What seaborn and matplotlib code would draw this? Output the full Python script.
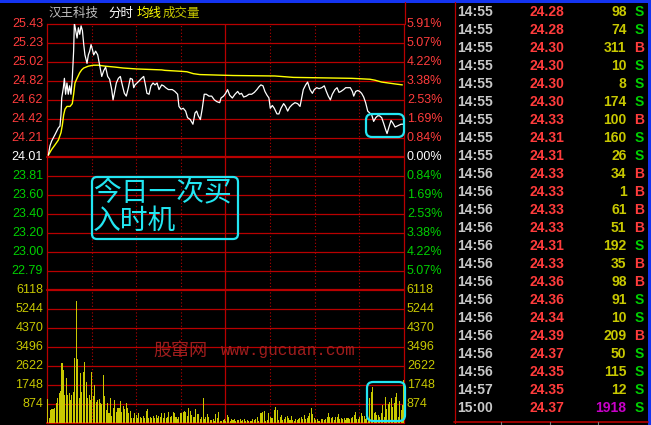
import numpy as np
import pandas as pd
import matplotlib
matplotlib.use("Agg")
import matplotlib.pyplot as plt
import seaborn as sns
from matplotlib.patches import FancyBboxPatch, Rectangle

# ---------------- data ----------------
stock_name = "汉王科技"
prev_close = 24.01
price_limit = 1.42
vol_max = 6118

price_labels = ["25.43", "25.23", "25.02", "24.82", "24.62", "24.42", "24.21",
                "24.01", "23.81", "23.60", "23.40", "23.20", "23.00", "22.79"]
pct_labels = ["5.91%", "5.07%", "4.22%", "3.38%", "2.53%", "1.69%", "0.84%",
              "0.00%", "0.84%", "1.69%", "2.53%", "3.38%", "4.22%", "5.07%"]
vol_labels = ["6118", "5244", "4370", "3496", "2622", "1748", "874"]

# minute since 09:30 (0..240) and price of the white line
price_min = [0.9, 2.0, 3.1, 5.4, 7.6, 8.7, 9.4, 9.9, 11.0, 11.7, 12.5, 13.4, 14.3, 15.2,
             16.1, 17.0, 17.9, 18.4, 19.3, 20.2, 21.1, 22.0, 22.9, 23.8, 24.7, 25.5,
             26.9, 27.8, 28.7, 29.6, 30.5, 31.4, 32.7, 34.1, 35.4, 36.8, 38.1, 39.4,
             40.8, 42.1, 43.5, 44.4, 45.3, 46.6, 48.0, 49.3, 50.6, 52.0, 53.3, 54.7,
             56.0, 57.4, 58.3, 59.2, 60.5, 61.8, 63.6, 65.0, 65.9, 67.2, 68.6, 69.9,
             71.3, 72.6, 74.0, 75.3, 77.1, 78.4, 79.8, 81.6, 82.7, 84.2, 86.0, 87.8,
             88.7, 90.1, 91.6, 93.2, 94.5, 96.3, 98.1, 99.5, 100.6, 101.7, 103.1,
             104.4, 105.7, 107.1, 108.9, 110.7, 112.5, 114.3, 116.1, 117.0, 118.7,
             120.1, 121.4, 122.8, 124.6, 126.4, 128.2, 129.5, 130.8, 132.2, 134.0,
             135.8, 137.6, 139.4, 141.1, 142.5, 143.8, 145.2, 146.5, 147.9, 149.2,
             150.1, 151.5, 152.8, 154.6, 155.9, 157.3, 159.1, 160.4, 161.8, 163.1,
             164.9, 166.7, 168.5, 170.1, 171.2, 172.3, 173.9, 175.2, 176.8, 178.4,
             179.7, 181.3, 182.9, 184.7, 186.4, 187.8, 189.1, 190.5, 191.8, 193.6,
             195.0, 196.3, 197.6, 199.4, 200.8, 202.6, 203.9, 205.3, 206.2, 207.5,
             208.9, 210.2, 211.5, 212.9, 214.2, 215.6, 216.9, 218.3, 219.6, 221.0,
             222.3, 223.6, 225.0, 226.3, 227.7, 228.6, 229.9, 231.3, 232.6, 234.0,
             235.3, 236.6, 238.0, 239.3, 240.0]
price = [24.03, 24.13, 24.18, 24.25, 24.32, 24.34, 24.46, 24.64, 24.75, 24.85, 24.68,
         24.80, 24.68, 24.77, 24.68, 24.85, 25.14, 25.44, 25.36, 25.28, 25.39, 25.32,
         25.41, 25.36, 25.21, 25.10, 25.01, 25.10, 25.14, 25.21, 25.16, 25.10, 25.14,
         25.10, 24.99, 24.87, 24.93, 24.97, 24.87, 24.84, 24.73, 24.62, 24.69, 24.80,
         24.85, 24.87, 24.78, 24.69, 24.66, 24.75, 24.85, 24.84, 24.75, 24.78, 24.80,
         24.82, 24.85, 24.87, 24.80, 24.69, 24.68, 24.77, 24.80, 24.78, 24.80, 24.73,
         24.78, 24.77, 24.75, 24.73, 24.73, 24.73, 24.71, 24.68, 24.55, 24.52, 24.53,
         24.50, 24.43, 24.41, 24.36, 24.48, 24.50, 24.45, 24.41, 24.53, 24.68, 24.68,
         24.66, 24.66, 24.62, 24.60, 24.59, 24.64, 24.66, 24.69, 24.73, 24.67, 24.64,
         24.68, 24.71, 24.68, 24.69, 24.65, 24.66, 24.68, 24.68, 24.70, 24.73, 24.76,
         24.78, 24.77, 24.71, 24.67, 24.64, 24.53, 24.56, 24.53, 24.47, 24.47, 24.53,
         24.58, 24.55, 24.50, 24.54, 24.57, 24.59, 24.58, 24.55, 24.64, 24.73, 24.78,
         24.81, 24.73, 24.69, 24.73, 24.75, 24.74, 24.75, 24.77, 24.71, 24.66, 24.62,
         24.68, 24.73, 24.75, 24.70, 24.71, 24.73, 24.75, 24.75, 24.75, 24.71, 24.66,
         24.71, 24.72, 24.71, 24.69, 24.65, 24.59, 24.50, 24.48, 24.46, 24.39, 24.43,
         24.45, 24.45, 24.43, 24.37, 24.30, 24.26, 24.33, 24.40, 24.37, 24.33, 24.34,
         24.35, 24.36, 24.36, 24.37]

avg_min = [0.9, 3.1, 5.4, 7.6, 9.4, 10.3, 11.2, 12.1, 13.4, 15.5, 17.0, 17.9, 18.8,
           20.2, 22.0, 23.3, 24.7, 27.8, 31.2, 34.5, 39.0, 45.7, 51.3, 60.3, 77.1,
           79.3, 90.1, 94.1, 98.3, 102.8, 125.2, 153.2, 165.6, 204.8, 217.1, 220.5,
           225.0, 229.5, 234.0, 238.9]
avg_price = [24.03, 24.09, 24.14, 24.19, 24.27, 24.35, 24.46, 24.52, 24.55, 24.55,
             24.58, 24.68, 24.80, 24.85, 24.91, 24.94, 24.96, 24.98, 24.99, 24.99,
             24.98, 24.97, 24.96, 24.95, 24.94, 24.935, 24.925, 24.92, 24.90, 24.89,
             24.88, 24.875, 24.86, 24.85, 24.84, 24.83, 24.81, 24.80, 24.79, 24.78]

volume = [1088, 215, 598, 644, 644, 705, 904, 1134, 1364, 1472,
          2744, 2437, 1288, 2054, 1288, 1364, 1058, 1288, 1441, 3005,
          5611, 2943, 1134, 2284, 1441, 2330, 2821, 1901, 1134, 1288,
          1058, 2361, 1257, 1748, 981, 1058, 1104, 904, 858, 2208,
          1257, 598, 904, 445, 1134, 337, 705, 1058, 521, 705,
          675, 1012, 521, 797, 644, 904, 675, 475, 552, 245,
          245, 445, 368, 245, 475, 291, 245, 337, 245, 552,
          644, 215, 291, 215, 337, 245, 368, 215, 337, 291,
          445, 215, 475, 215, 291, 521,
          291, 322, 490, 445, 261, 169, 291, 445, 475, 521,
          567, 521, 322, 675, 567, 368, 261, 291, 629, 414,
          414, 169, 261, 1134, 169, 261, 414, 291, 138, 138,
          169, 107, 414, 215, 521, 107, 107, 138, 169, 107,
          368, 261, 107, 169, 138, 169, 77, 138, 138, 169,
          107, 138, 169, 107, 138, 107, 107, 107, 169, 138,
          169, 261, 107, 475, 445, 521, 567, 107, 138, 445,
          261, 215, 215, 598, 721, 598, 138, 261, 368, 138,
          169, 261, 322, 215,
          138, 322, 138, 107, 169, 138, 169, 215, 261, 169,
          368, 169, 215, 322, 445, 675, 414, 215, 138, 169,
          107, 107, 169, 169, 138, 169, 291, 475, 291, 215,
          261, 138, 291, 261, 414, 169, 215, 169, 215, 138,
          215, 215, 169, 215, 261, 368, 521, 169, 169, 261,
          445, 322, 322, 169, 215, 107, 1134, 1441, 1671, 445,
          521, 368, 368, 291, 445, 828, 291, 1180, 629, 874,
          981, 1134, 751, 905, 1211, 1395, 291, 1027, 598, 828,
          1978]

tick_time = ["14:55", "14:55", "14:55", "14:55", "14:55", "14:55", "14:55", "14:55",
             "14:55", "14:56", "14:56", "14:56", "14:56", "14:56", "14:56", "14:56",
             "14:56", "14:56", "14:56", "14:56", "14:56", "14:57", "15:00"]
tick_price = ["24.28", "24.28", "24.30", "24.30", "24.30", "24.30", "24.33", "24.31",
              "24.31", "24.33", "24.33", "24.33", "24.33", "24.31", "24.33", "24.36",
              "24.36", "24.34", "24.39", "24.37", "24.35", "24.35", "24.37"]
tick_vol = [98, 74, 311, 10, 8, 174, 100, 160, 26, 34, 1, 61, 51, 192, 35, 98, 91,
            10, 209, 50, 115, 12, 1918]
tick_side = ["S", "S", "B", "S", "S", "S", "B", "S", "S", "B", "B", "B", "B", "S",
             "B", "B", "S", "S", "B", "S", "S", "S", "S"]

# ---------------- style ----------------
BG = "black"
GRID = "#b80000"
RED = "#ff3c3c"
GREEN = "#00d000"
OLIVE = "#c8c800"
CYAN = "#22e6f2"
BLUE = "#1434f0"

sns.set_theme(style="dark", rc={"figure.facecolor": BG, "axes.facecolor": BG})
plt.rcParams["font.family"] = ["Liberation Sans", "Noto Sans CJK SC", "DejaVu Sans"]
CJK = ["Noto Sans CJK SC", "DejaVu Sans"]

W, H = 651, 425
fig = plt.figure(figsize=(W / 100, H / 100), dpi=100, facecolor=BG)


def fx(x):
    return x / W


def fy(y):
    return 1 - y / H


ax_p = fig.add_axes([fx(47), fy(290), 357 / W, 266 / H])
ax_v = fig.add_axes([fx(47), fy(423), 357 / W, 133 / H])

price_levels = prev_close + price_limit * np.arange(7, -8, -1) / 7
vol_levels = vol_max * np.arange(7, -1, -1) / 7

for ax in (ax_p, ax_v):
    ax.set_facecolor(BG)
    ax.set_xlim(0, 240)
    ax.set_xticks([])
    ax.set_yticks([])
    ax.grid(False)
    for side in ("top", "bottom"):
        ax.spines[side].set_visible(False)
    for side in ("left", "right"):
        ax.spines[side].set_color(GRID)
        ax.spines[side].set_linewidth(0.9)
    for m in (30, 60, 90, 150, 180, 210):
        ax.axvline(m, color=GRID, lw=0.8, ls=(0, (1, 2)), zorder=1)
    ax.axvline(120, color=GRID, lw=0.9, zorder=1)

ax_p.set_ylim(price_levels[-1], price_levels[0])
ax_v.set_ylim(0, vol_max)

for i, lv in enumerate(price_levels[:-1]):
    ax_p.axhline(lv, color=GRID, lw=1.6 if i == 7 else 0.9, zorder=1, clip_on=False)
for i, lv in enumerate(vol_levels):
    ax_v.axhline(lv, color=GRID, lw=1.6 if i in (0, 7) else 0.9, zorder=1, clip_on=False)

# price / average lines
df_p = pd.DataFrame({"minute": price_min, "price": price})
df_a = pd.DataFrame({"minute": avg_min, "price": avg_price})
sns.lineplot(data=df_a, x="minute", y="price", ax=ax_p, color="#ffff00", lw=1.0,
             estimator=None, sort=False, zorder=3)
sns.lineplot(data=df_p, x="minute", y="price", ax=ax_p, color="white", lw=0.9,
             estimator=None, sort=False, zorder=4)
ax_p.set_xlabel("")
ax_p.set_ylabel("")

# volume bars
vol_x = np.linspace(0.5, 240, len(volume))
ax_v.bar(vol_x, volume, width=0.7, color=OLIVE, edgecolor="none", linewidth=0,
         antialiased=False, zorder=3)
ax_v.set_xlabel("")
ax_v.set_ylabel("")

# axis labels
for i, (lab, pct) in enumerate(zip(price_labels, pct_labels)):
    c = RED if i < 7 else ("white" if i == 7 else GREEN)
    y = price_levels[i]
    ax_p.text(-0.011, y, lab, color=c, fontsize=9, ha="right", va="center",
              transform=ax_p.get_yaxis_transform(), clip_on=False)
    ax_p.text(1.008, y, pct, color=c, fontsize=9, ha="left", va="center",
              transform=ax_p.get_yaxis_transform(), clip_on=False)
for lab, lv in zip(vol_labels, vol_levels[:-1]):
    ax_v.text(-0.011, lv, lab, color=OLIVE, fontsize=9, ha="right", va="center",
              transform=ax_v.get_yaxis_transform(), clip_on=False)
    ax_v.text(1.008, lv, lab, color=OLIVE, fontsize=9, ha="left", va="center",
              transform=ax_v.get_yaxis_transform(), clip_on=False)

# overlay in pixel coordinates for frame, header, tick list and notes
ov = fig.add_axes([0, 0, 1, 1])
ov.set_xlim(0, W)
ov.set_ylim(H, 0)
ov.axis("off")

ov.add_patch(Rectangle((0, 0), W, 2.5, color=BLUE, lw=0))
ov.add_patch(Rectangle((648, 0), 3, H, color=BLUE, lw=0))
ov.plot([454.5, 454.5], [2, 423], color=GRID, lw=0.9)
ov.plot([404.5, 404.5], [2, 24], color=GRID, lw=0.9)
ov.plot([454, 648], [422, 422], color=GRID, lw=1.2)
for tx in (501, 550, 598):
    ov.plot([tx, tx], [422, 425], color="#808080", lw=0.8)

# header
ov.text(48, 13, stock_name, color="#c0c0c0", fontsize=9, family=CJK, va="center")
ov.text(108, 13, "分时", color="white", fontsize=9, family=CJK, va="center")
ov.text(137, 13, "均线", color="#ffff00", fontsize=9, family=CJK, va="center")
ov.text(163, 13, "成交量", color=OLIVE, fontsize=9, family=CJK, va="center")

# tick list
for i in range(len(tick_time)):
    y = 12 + 18 * i
    ov.text(457, y, tick_time[i], color="#c8c8c8", fontsize=10, weight="bold",
            ha="left", va="center")
    ov.text(547, y, tick_price[i], color=RED, fontsize=10, weight="bold",
            ha="center", va="center")
    ov.text(626.5, y, str(tick_vol[i]), color="#c800c8" if tick_vol[i] > 1000 else OLIVE,
            fontsize=10, weight="bold", ha="right", va="center")
    ov.text(639.5, y, tick_side[i], color=RED if tick_side[i] == "B" else GREEN,
            fontsize=10, weight="bold", ha="center", va="center")

# watermark
ov.text(153, 351, "股窜网", color="#b02020", fontsize=13, family=CJK, va="center", alpha=0.9)
ov.text(221, 351, "www.gucuan.com", color="#b02020", fontsize=11.5,
        family=["Liberation Mono"], va="center", alpha=0.9)

# cyan notes
ov.add_patch(FancyBboxPatch((92, 177), 146, 62, boxstyle="round,pad=0,rounding_size=5",
                            fill=False, ec=CYAN, lw=1.6))
ov.text(93, 193, "今日一次买", color=CYAN, fontsize=20, family=CJK, va="center")
ov.text(93, 221, "入时机", color=CYAN, fontsize=20, family=CJK, va="center")
ov.add_patch(FancyBboxPatch((366, 114), 38, 23, boxstyle="round,pad=0,rounding_size=6",
                            fill=False, ec=CYAN, lw=1.6))
ov.add_patch(FancyBboxPatch((367, 382), 38, 39, boxstyle="round,pad=0,rounding_size=6",
                            fill=False, ec=CYAN, lw=1.6))

fig.savefig("out.png", dpi=100, facecolor=BG)
plt.close(fig)
